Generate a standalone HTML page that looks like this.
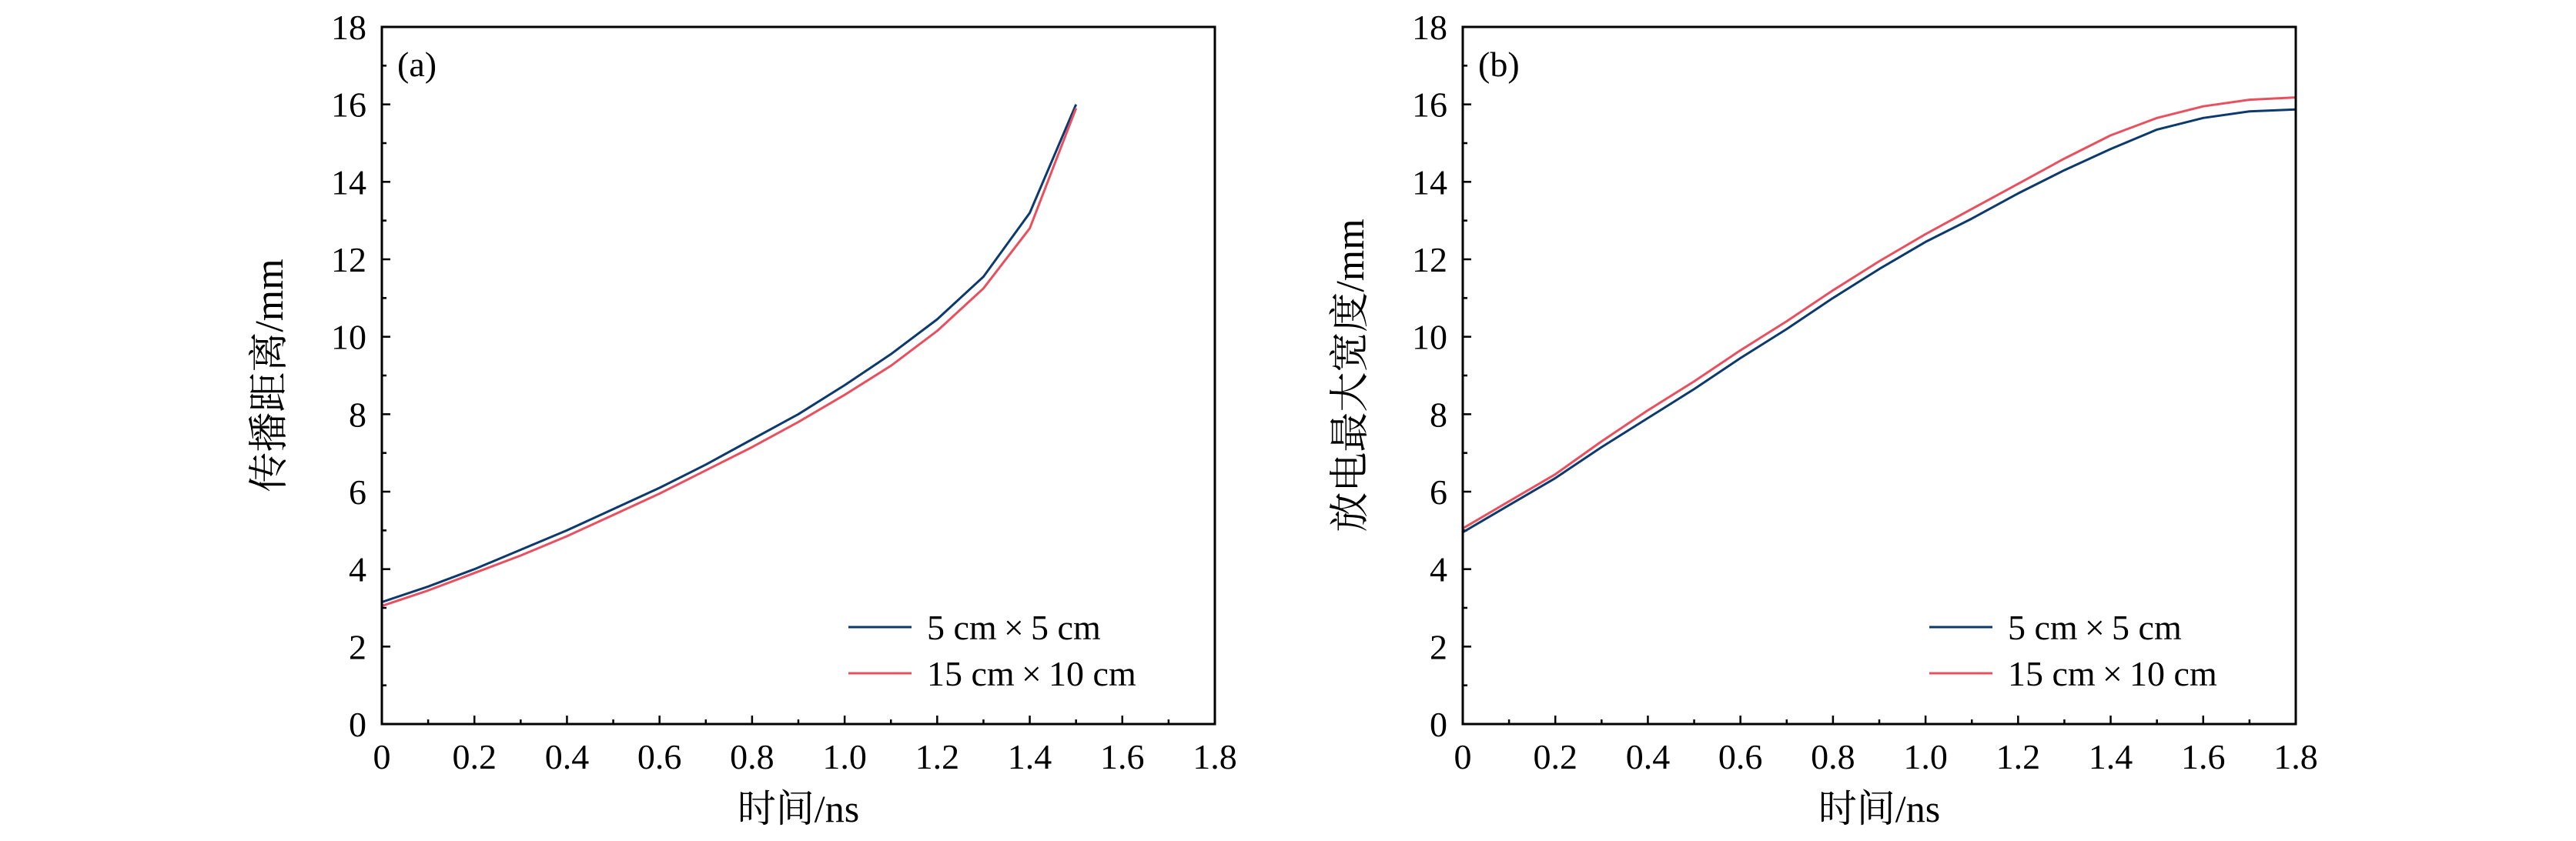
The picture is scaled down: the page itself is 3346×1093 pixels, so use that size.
<!DOCTYPE html>
<html><head><meta charset="utf-8">
<style>
html,body{margin:0;padding:0;background:#fff;}
svg{display:block;}
text{font-family:"Liberation Serif","Noto Serif CJK SC",serif;fill:#000;}
</style></head>
<body>
<svg id="fig" width="3346" height="1093" viewBox="0 0 3346 1093" xmlns="http://www.w3.org/2000/svg"></svg>
<script>
const timeA = [0,0.1,0.2,0.3,0.4,0.5,0.6,0.7,0.8,0.9,1.0,1.1,1.2,1.3,1.4,1.5];
const distBlue = [3.15,3.55,4.0,4.5,5.0,5.55,6.1,6.7,7.35,8.0,8.75,9.55,10.45,11.55,13.2,16.0];
const distRed = [3.05,3.45,3.9,4.35,4.85,5.4,5.95,6.55,7.15,7.8,8.5,9.25,10.15,11.25,12.8,15.9];
const timeB = [0,0.1,0.2,0.3,0.4,0.5,0.6,0.7,0.8,0.9,1.0,1.1,1.2,1.3,1.4,1.5,1.6,1.7,1.8];
const widthBlue = [4.95,5.65,6.35,7.15,7.9,8.65,9.45,10.2,11.0,11.75,12.45,13.05,13.7,14.3,14.85,15.35,15.65,15.82,15.87];
const widthRed = [5.05,5.75,6.45,7.3,8.1,8.85,9.65,10.4,11.2,11.95,12.65,13.3,13.95,14.6,15.2,15.65,15.95,16.12,16.18];
const xTicks = ["0","0.2","0.4","0.6","0.8","1.0","1.2","1.4","1.6","1.8"];
const yTicks = ["0","2","4","6","8","10","12","14","16","18"];
const legendLabels = ["5 cm\u2009\u00d7\u20095 cm","15 cm\u2009\u00d7\u200910 cm"];

const NS="http://www.w3.org/2000/svg";
const svg=document.getElementById('fig');
function mk(tag,attrs,parent){const e=document.createElementNS(NS,tag);for(const k in attrs)e.setAttribute(k,attrs[k]);(parent||svg).appendChild(e);return e;}

function panel(id,left,right,top,bottom,label,ytitle,series){
  const g=mk('g',{});
  
  
  const xs=v=>left+(v/1.8)*(right-left);
  const ys=v=>bottom-(v/18)*(bottom-top);
  for(let i=0;i<=18;i++){
    const v=i*0.1, x=xs(v), len=(i%2===0)?11:6;
    const t=mk('line',{x1:x,x2:x,y1:bottom,y2:bottom-len,stroke:'#000','stroke-width':2.5},g);
    
    
  }
  xTicks.forEach((s,i)=>{
    const t=mk('text',{x:xs(i*0.2),y:999,'font-size':46,'text-anchor':'middle'},g);
    t.textContent=s;
    
    
  });
  for(let i=0;i<=18;i++){
    const y=ys(i), len=(i%2===0)?11:6;
    const t=mk('line',{x1:left,x2:left+len,y1:y,y2:y,stroke:'#000','stroke-width':2.5},g);
    
    
  }
  yTicks.forEach((s,i)=>{
    const t=mk('text',{x:left-20,y:ys(i*2)+16,'font-size':46,'text-anchor':'end'},g);
    t.textContent=s;
    
    
  });
  series.forEach(s=>{
    const d=s.x.map((v,i)=>(i?'L':'M')+xs(v).toFixed(1)+','+ys(s.y[i]).toFixed(1)).join(' ');
    const p=mk('path',{d:d,fill:'none',stroke:s.color,'stroke-width':3,'stroke-linejoin':'round'},g);
    
    
  });
  const box=mk('rect',{x:left,y:top,width:right-left,height:bottom-top,fill:'none',stroke:'#000','stroke-width':3},g);
  
  
  const lb=mk('text',{x:left+20,y:top+64,'font-size':46},g);
  lb.textContent=label;
  
  
  const xt=mk('text',{x:(left+right)/2,y:1068,'font-size':50,'text-anchor':'middle'},g);
  xt.textContent='时间/ns';
  
  
  const cx=left-146, cy=(top+bottom)/2;
  const yt=mk('text',{x:cx,y:cy,'font-size':52,'text-anchor':'middle',transform:`rotate(-90 ${cx} ${cy}) translate(0 17)`},g);
  yt.textContent=ytitle;
  
  
  const lx=right-476;
  series.forEach((s,i)=>{
    const y=815+i*60;
    const ln=mk('line',{x1:lx,x2:lx+82,y1:y,y2:y,stroke:s.color,'stroke-width':3},g);
    
    
    const tx=mk('text',{x:lx+102,y:y+16,'font-size':46},g);
    tx.textContent=legendLabels[i];
    
    
  });
}
panel('a',496,1578,35,941,'(a)','传播距离/mm',[
  {x:timeA,y:distBlue,color:'#0d3a6e',name:'line-5x5'},
  {x:timeA,y:distRed,color:'#e8505f',name:'line-15x10'}]);
panel('b',1900,2982,35,941,'(b)','放电最大宽度/mm',[
  {x:timeB,y:widthBlue,color:'#0d3a6e',name:'line-5x5'},
  {x:timeB,y:widthRed,color:'#e8505f',name:'line-15x10'}]);
</script>
</body></html>
